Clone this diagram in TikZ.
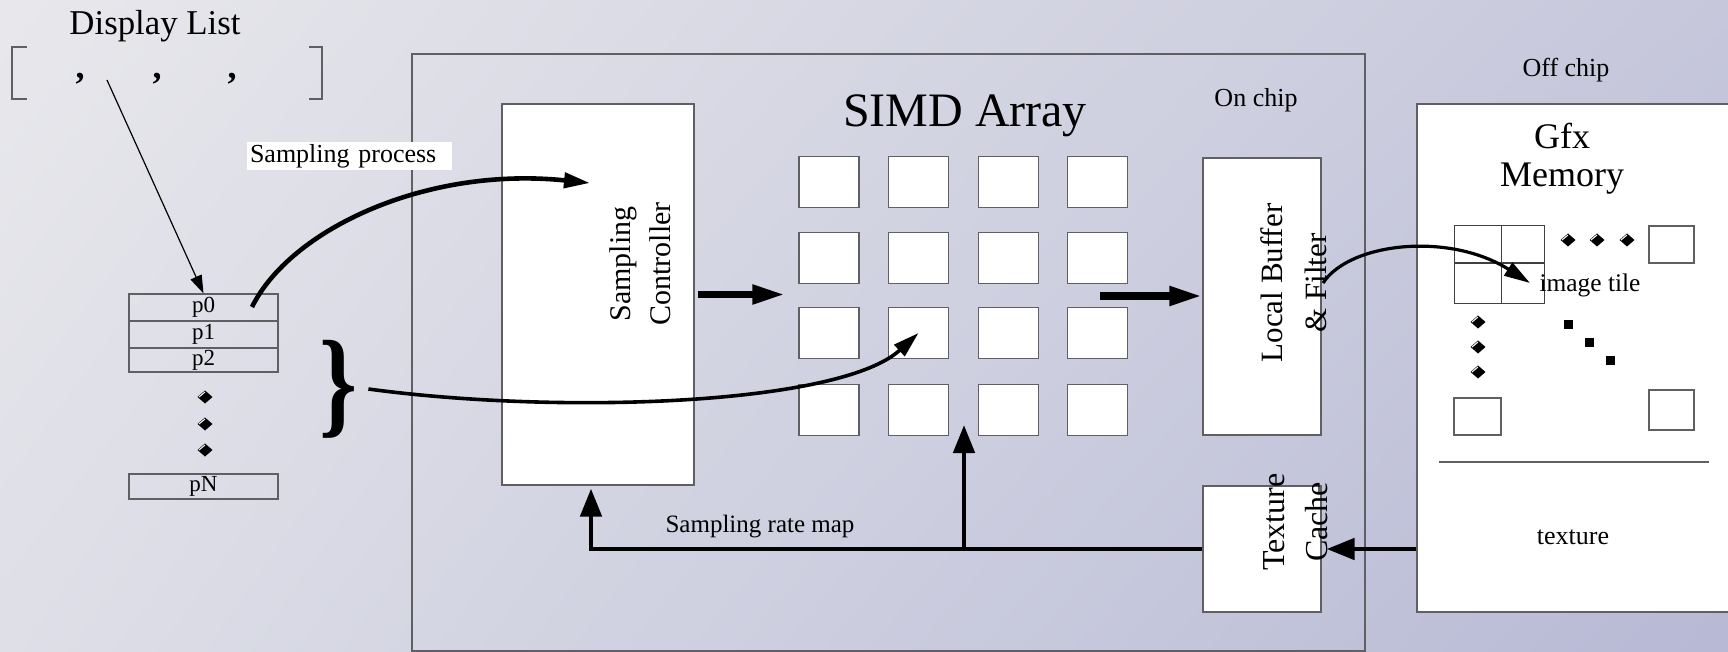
\documentclass[tikz,border=0pt]{standalone}
\usepackage{fontspec}
\setmainfont{Liberation Serif}
\usepackage{graphicx}
\usetikzlibrary{arrows.meta,shadings}

\definecolor{bgUL}{RGB}{232,232,236}
\definecolor{bgLL}{RGB}{222,223,231}
\definecolor{bgUR}{RGB}{198,199,219}
\definecolor{bgLR}{RGB}{183,185,213}
\definecolor{edge}{RGB}{95,95,100}

\newcommand{\fs}[2]{\fontsize{#1}{#2}\selectfont}
% small 3D-looking diamond used as an ellipsis mark
\newcommand{\dmark}[2]{\fill (#1,#2) ++(-7.5,0) -- ++(7.5,-6.5) -- ++(7.5,6.5) -- ++(-7.5,6.5) -- cycle;
  \draw[white, line width=0.5pt] (#1-6,#2) -- (#1,#2-5);}
% small square used as a diagonal ellipsis mark
\newcommand{\smark}[2]{\fill (#1-4.5,#2-4.5) rectangle (#1+4.5,#2+4.5);}

\begin{document}
\begin{tikzpicture}[x=0.5pt,y=-0.5pt,
  box/.style={draw=edge, line width=0.6pt, fill=white, inner sep=0pt},
  cell/.style={box, minimum width=30pt, minimum height=25.5pt},
  pbox/.style={draw=edge, line width=0.6pt, inner sep=0pt, minimum width=74.5pt, font=\fs{11.5}{12}},
  thinline/.style={draw=edge, line width=0.6pt},
  tileline/.style={draw=black!75, line width=0.5pt},
  lbl/.style={inner sep=0pt},
  bigarrow/.style={line width=3.8pt, -{Triangle[length=16.5pt,width=9pt]}},
  medarrow/.style={line width=2.4pt, -{Triangle[length=14pt,width=10.5pt]}},
  curvearrow/.style={line width=2pt, -{Triangle[length=13pt,width=7.5pt]}}
]
\useasboundingbox (0,0) rectangle (1728,652);
\clip (0,0) rectangle (1728,652);

% background
\shade[upper left=bgUL, upper right=bgUR, lower left=bgLL, lower right=bgLR]
  (0,0) rectangle (1728,652);

% ---------------- display list ----------------
\node[lbl, font=\fs{17.4}{20}] (dltitle) at (155,26) {Display List};
\draw[thinline] (27,47) -- (12,47) -- (12,99) -- (27,99);
\draw[thinline] (309,47) -- (322,47) -- (322,99) -- (309,99);
\node[lbl, font=\fs{18}{20}\bfseries] (comma1) at (80,79) {,};
\node[lbl, font=\fs{18}{20}\bfseries] (comma2) at (157,79) {,};
\node[lbl, font=\fs{18}{20}\bfseries] (comma3) at (232,79) {,};
\coordinate (dlstart) at (107,80);

\node[pbox, minimum height=13.5pt] (p0) at (203.5,307.5) {p0};
\node[pbox, minimum height=13.5pt] (p1) at (203.5,334.5) {p1};
\node[pbox, minimum height=12pt]   (p2) at (203.5,360) {p2};
\node[pbox, minimum height=12.5pt] (pN) at (203.5,486.5) {pN};
\dmark{205}{397}
\dmark{205}{424}
\dmark{205}{450}

\node[lbl] (brace) at (338,389) {\resizebox*{19pt}{49pt}{\bfseries\}}};

\draw[line width=0.6pt, -{Triangle[length=9pt,width=6pt]}] (dlstart) -- (p0.north);

% ---------------- on chip ----------------
\node[draw=edge, line width=0.6pt, inner sep=0pt, minimum width=476.5pt,
      minimum height=298.5pt] (chip) at (888.5,352.5) {};
\node[lbl, font=\fs{13}{15}] (onchip) at (1256,100) {On chip};

\node[box, minimum width=96pt, minimum height=190.5pt] (ctrl) at (598,294.5) {};
\node[lbl, rotate=90, align=center, font=\fs{15}{20}] (ctrltxt) at (640,264) {Sampling\\Controller};

\node[lbl, font=\fs{24}{28}] (simdtitle) at (965,116) {SIMD Array};
\foreach \yy [count=\i] in {182,258,333,410}
  \foreach \xx [count=\j] in {829,918.5,1008.5,1097.5}
    \node[cell] (c\i\j) at (\xx,\yy) {};

\node[box, minimum width=59pt, minimum height=138.5pt] (buf) at (1262,296.5) {};
\node[lbl, rotate=90, align=center, font=\fs{15.5}{22}] (buftxt) at (1294,283) {Local Buffer\\\& Filter};

\node[box, minimum width=59pt, minimum height=63pt] (tex) at (1262,549) {};
\node[lbl, rotate=90, align=center, font=\fs{16}{21.5}] (textxt) at (1296,522) {Texture\\Cache};

% ---------------- off chip ----------------
\node[lbl, font=\fs{13}{15}] (offchip) at (1566,70) {Off chip};
\node[box, minimum width=164pt, minimum height=254pt] (mem) at (1581,358) {};
\node[lbl, align=center, font=\fs{18}{19}] (memtxt) at (1562,159) {Gfx\\Memory};

\draw[tileline] (1454,226) rectangle (1544,303);
\draw[tileline] (1501,226) -- (1501,303);
\draw[tileline] (1454,263) -- (1544,263);
\draw[thinline] (1649,226) rectangle (1694,263);
\draw[thinline] (1454,398) rectangle (1501,435);
\draw[thinline] (1649,390) rectangle (1694,430);
\draw[thinline] (1439,462) -- (1709,462);
\dmark{1568}{240}
\dmark{1597}{240}
\dmark{1627}{240}
\dmark{1478}{322}
\dmark{1478}{347}
\dmark{1478}{372}
\smark{1568}{324}
\smark{1589}{342}
\smark{1610}{360}
\node[lbl, font=\fs{12.7}{14}] (tilelbl) at (1590,285) {image tile};
\node[lbl, font=\fs{13}{15}] (texlbl) at (1573,537) {texture};

% ---------------- connectors ----------------
\coordinate (simdout) at (1100,296);
\coordinate (spstart) at (252,307);
\coordinate (sptip) at (590,183);
\coordinate (lbout) at (1323,283);
\coordinate (tiletip) at (1530,283);
\coordinate (branch) at (964,550);
\coordinate (branchtip) at (964,425);

\draw[bigarrow] ([xshift=1.5pt]ctrl.east) -- ([xshift=-6.5pt]ctrl.east -| c21.west);
\draw[bigarrow] (simdout) -- (buf.west |- simdout);

\draw[medarrow] (tex.west) -| ([xshift=-3.5pt,yshift=-1.5pt]ctrl.south);
\draw[medarrow] (branch) -- (branchtip);
\draw[medarrow] (mem.west |- tex.east) -- ([xshift=2.5pt]tex.east);
\node[lbl, font=\fs{12.5}{14}] (ratelbl) at (760,527) {Sampling rate map};

\draw[curvearrow, line width=2.3pt] (spstart) .. controls (290,230) and (425,166) .. (sptip);
\draw[curvearrow, line width=1.8pt] ([xshift=5.5pt]brace.east) .. controls (560,415) and (840,405) .. (c32.center);
\draw[curvearrow, line width=1.6pt] (lbout) .. controls (1350,242) and (1450,232) .. (tiletip);

\node[fill=white, inner xsep=1.5pt, inner ysep=0pt, minimum height=14pt, text width=99.5pt,
      align=left, font=\fs{13}{15}] (splbl) at (349.5,156) {Sampling process};
\end{tikzpicture}
\end{document}
